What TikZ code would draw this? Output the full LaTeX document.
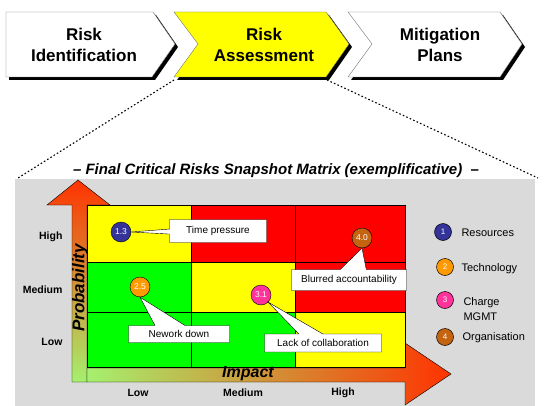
\documentclass[tikz,border=0pt]{standalone}
\usepackage{fontspec}
\setmainfont{Liberation Sans}
\usetikzlibrary{shapes.callouts}

\definecolor{navybub}{RGB}{51,51,153}
\definecolor{orangebub}{RGB}{255,153,0}
\definecolor{pinkbub}{RGB}{255,51,153}
\definecolor{brownbub}{RGB}{196,100,16}
\definecolor{panelgray}{RGB}{218,218,218}
\definecolor{arrowred}{RGB}{255,51,0}
\definecolor{arroworange}{RGB}{230,150,50}
\definecolor{arrowgreen}{RGB}{165,240,110}
\definecolor{cellyellow}{RGB}{255,255,0}
\definecolor{cellred}{RGB}{255,0,0}
\definecolor{cellgreen}{RGB}{0,255,0}

\begin{document}
\begin{tikzpicture}[x=1pt,y=-1pt,
    chev/.style={fill=white,draw=black!55,line width=0.4pt},
    chevtext/.style={align=center,font=\fontsize{17}{21}\selectfont\bfseries},
    dotline/.style={line width=1.1pt,dash pattern=on 1.6pt off 2.2pt},
    bubble/.style={circle,draw=black,line width=0.4pt,minimum size=20pt,inner sep=0pt,text=white,font=\fontsize{8.5}{10}\selectfont},
    legdot/.style={circle,draw=black,line width=0.5pt,minimum size=17pt,inner sep=0pt,text=white,font=\fontsize{8}{10}\selectfont},
    note/.style={rectangle callout,fill=white,draw=black,line width=0.4pt,inner sep=0pt,font=\fontsize{10}{12}\selectfont},
    axislabel/.style={anchor=east,font=\fontsize{10.5}{12}\selectfont\bfseries},
    xlabel/.style={font=\fontsize{10.5}{12}\selectfont\bfseries},
    axistitle/.style={font=\fontsize{16}{18}\selectfont\bfseries\itshape},
    legtext/.style={anchor=west,align=left,font=\fontsize{11}{15}\selectfont}]

        \useasboundingbox (0,0) rectangle (545,406);

        % process chevrons
        \fill[black,shift={(3,3)}] (6,12) -- (153,12) -- (175,44) -- (152,77) -- (6,77) -- cycle;
        \fill[black,shift={(3,3)}] (174,12) -- (326,12) -- (349,44) -- (326,77) -- (174,77) -- (198,44) -- cycle;
        \fill[black,shift={(3,3)}] (348,12) -- (500,12) -- (522,44) -- (500,77) -- (348,77) -- (372,44) -- cycle;
        \draw[chev] (6,12) -- (153,12) -- (175,44) -- (152,77) -- (6,77) -- cycle;
        \draw[chev,fill=cellyellow] (174,12) -- (326,12) -- (349,44) -- (326,77) -- (174,77) -- (198,44) -- cycle;
        \draw[chev] (348,12) -- (500,12) -- (522,44) -- (500,77) -- (348,77) -- (372,44) -- cycle;

        \node[chevtext] (ident)  at (84,45)  {Risk\\Identification};
        \node[chevtext] (assess) at (264,45) {Risk\\Assessment};
        \node[chevtext] (plans)  at (440,45) {Mitigation\\Plans};

        % zoom lines
        \coordinate (zl) at (174,80);
        \coordinate (zr) at (327,80);
        \coordinate (pl) at (18,178);
        \coordinate (pr) at (538,178);
        \draw[dotline] (zl) -- (pl);
        \draw[dotline] (zr) -- (pr);

        \node[font=\fontsize{15}{17}\selectfont\bfseries\itshape] (title) at (276,171)
            {--\ Final Critical Risks Snapshot Matrix (exemplificative)\ \ --};

        % matrix panel
        \fill[panelgray] (15,179) rectangle (535,406);

        \shadedraw[top color=arrowred,middle color=arroworange,bottom color=arrowgreen,draw=black,line width=0.4pt]
            (72,382) -- (72,205) -- (47,205) -- (78,180) -- (110,205) -- (87,205) -- (87,382) -- cycle;
        \shadedraw[left color=arrowgreen,middle color=arroworange,right color=arrowred,draw=black,line width=0.4pt]
            (87,368) -- (405,368) -- (405,343) -- (451,374) -- (405,405) -- (405,382) -- (87,382) -- cycle;

        \filldraw[fill=cellyellow] (87,205) rectangle (191,262);
        \filldraw[fill=cellred]    (191,205) rectangle (295,262);
        \filldraw[fill=cellred]    (295,205) rectangle (405,262);
        \filldraw[fill=cellgreen]  (87,262) rectangle (191,312);
        \filldraw[fill=cellyellow] (191,262) rectangle (295,312);
        \filldraw[fill=cellred]    (295,262) rectangle (405,312);
        \filldraw[fill=cellgreen]  (87,312) rectangle (191,367);
        \filldraw[fill=cellgreen]  (191,312) rectangle (295,367);
        \filldraw[fill=cellyellow] (295,312) rectangle (405,367);

        \node[axislabel] (yhigh) at (66,237) {High};
        \node[axislabel] (ymed)  at (66,290) {Medium};
        \node[axislabel] (ylow)  at (66,342) {Low};
        \node[xlabel] (xlow)  at (138,393) {Low};
        \node[xlabel] (xmed)  at (243,393) {Medium};
        \node[xlabel] (xhigh) at (343,393) {High};

        \node[axistitle,rotate=90,font=\fontsize{17}{18}\selectfont\bfseries\itshape] (prob) at (80,288) {Probability};
        \node[axistitle]           (impact) at (248,374) {Impact};

        % risks
        \node[bubble,fill=navybub]   (b13) at (121,232) {1.3};
        \node[bubble,fill=orangebub] (b25) at (140,287) {2.5};
        \node[bubble,fill=pinkbub]   (b31) at (261,295) {3.1};
        \node[bubble,fill=brownbub]  (b40) at (362,238) {4.0};

        \node[note,minimum width=97pt,minimum height=23pt,callout absolute pointer={(b13.east)},callout pointer width=5pt]
            (time) at (218,231) {Time pressure};
        \node[note,minimum width=101pt,minimum height=17pt,callout absolute pointer={(b25.south)},callout pointer width=30pt]
            (net) at (179,334) {Nework down};
        \node[note,minimum width=115pt,minimum height=21pt,callout absolute pointer={(b40.south)},callout pointer width=26pt]
            (blur) at (349,280) {Blurred accountability};
        \node[note,minimum width=117pt,minimum height=18pt,callout absolute pointer={(b31.south east)},callout pointer width=24pt]
            (lack) at (323,343) {Lack of collaboration};

        % legend
        \node[legdot,fill=navybub]   (l1) at (443,232) {1};
        \node[legdot,fill=orangebub] (l2) at (445,267) {2};
        \node[legdot,fill=pinkbub]   (l3) at (445,300) {3};
        \node[legdot,fill=brownbub]  (l4) at (445,337) {4};
        \node[legtext] (t1) at (458,233) {Resources};
        \node[legtext] (t2) at (458,269) {Technology};
        \node[legtext] (t3) at (460,309) {Charge\\MGMT};
        \node[legtext] (t4) at (459,338) {Organisation};
      \end{tikzpicture}
\end{document}
